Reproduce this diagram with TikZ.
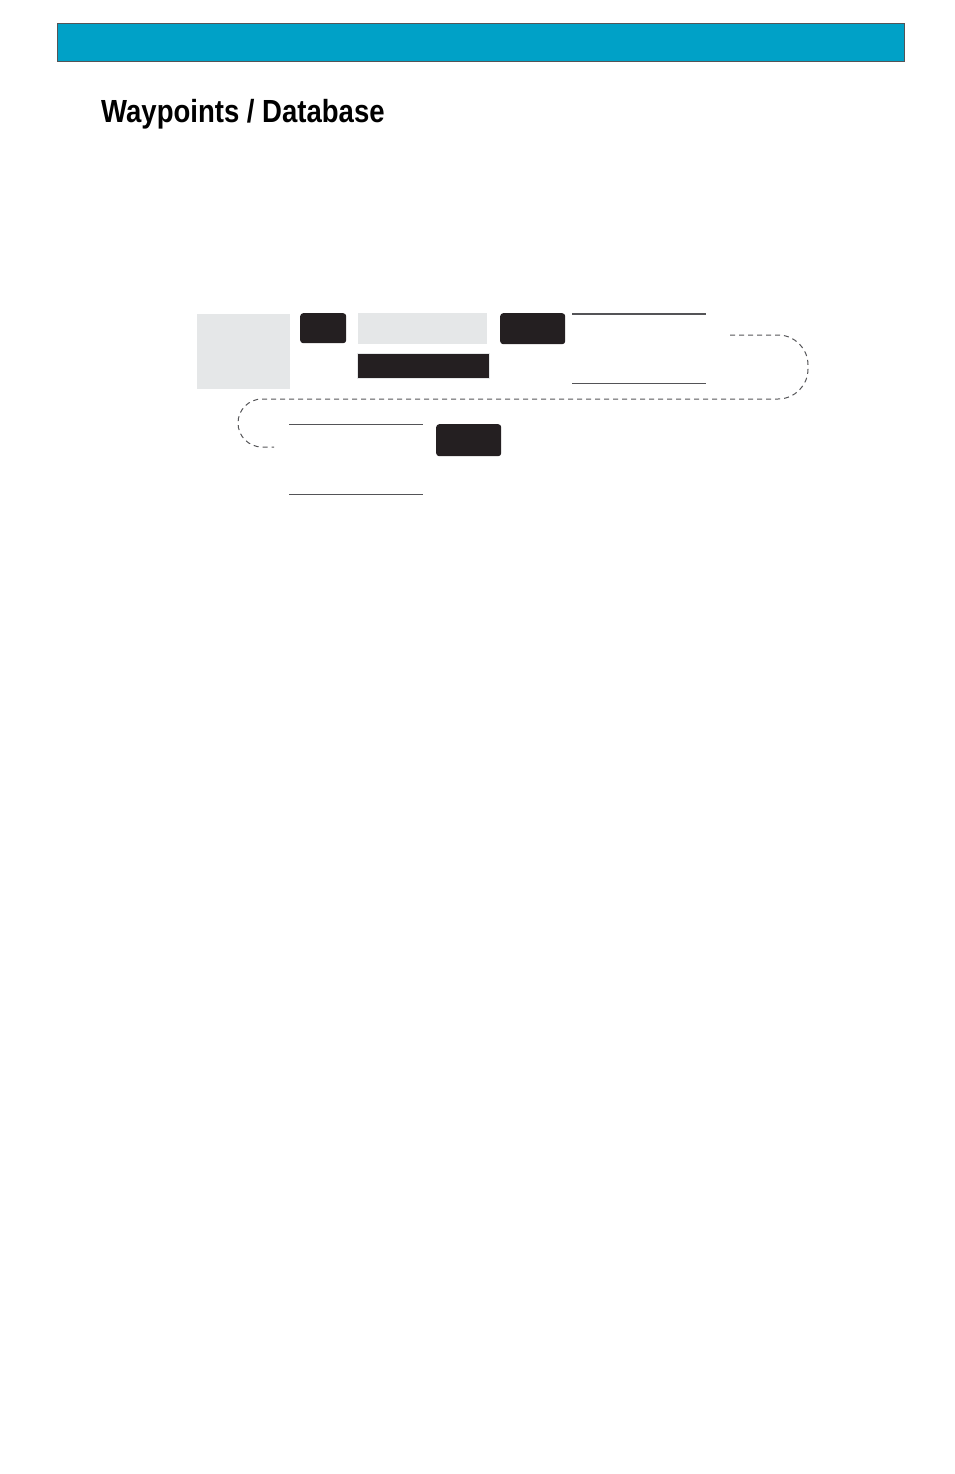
\documentclass[tikz,border=0pt]{standalone}
\usepackage{fontspec}
\setmainfont{Liberation Sans}
\usetikzlibrary{positioning}
\definecolor{mcyan}{rgb}{0.0, 0.63, 0.78}
\definecolor{mblack}{rgb}{0.14, 0.12, 0.13}
\definecolor{mgray}{rgb}{0.9, 0.906, 0.91}
\definecolor{mline}{rgb}{0.33, 0.33, 0.34}
\tikzset{keybox/.style = {fill = mblack, rounded corners = 3pt, inner sep = 0pt, anchor = north west},
         graybox/.style = {fill = mgray, inner sep = 0pt, anchor = north west},
         loop/.style = {mline, line width = 1pt, dash pattern = on 5pt off 4pt}}

\begin{document}
\begin{tikzpicture}[x = 1pt, y = -1pt]
      \useasboundingbox (0, 0) rectangle (954, 1474);
      % header bar
      \draw [fill = mcyan, draw = mline, line width = 0.6pt] (57, 23) rectangle (904, 61);
      \node (title) [anchor = base west, inner sep = 0pt] at (101, 123)
            {\scalebox{0.86}[1]{\fontsize{32}{32}\selectfont\bfseries Waypoints / Database}};
      % first row
      \node (screen) [graybox, minimum width = 93pt, minimum height = 75pt] at (197, 314) {};
      \node (keyA) [keybox, minimum width = 46pt, minimum height = 30pt] at (300, 313) {};
      \node (field) [graybox, minimum width = 129pt, minimum height = 31pt] at (358, 313) {};
      \node (keyB) [keybox, minimum width = 65pt, minimum height = 31pt] at (500, 313) {};
      \node (bar) [fill = mblack, draw = mgray, line width = 1pt, inner sep = 0pt, anchor = north west,
                   minimum width = 132pt, minimum height = 25pt] at (356.5, 352.5) {};
      \coordinate (topA) at (572, 314);
      \coordinate (topB) at (706, 314);
      \coordinate (botA) at (572, 383);
      \coordinate (botB) at (706, 383);
      \draw [mline, line width = 1.8pt] (topA) -- (topB);
      \draw [mline, line width = 1pt] (botA) -- (botB);
      % second row
      \coordinate (topC) at (289, 424);
      \coordinate (topD) at (423, 424);
      \coordinate (botC) at (289, 494);
      \coordinate (botD) at (423, 494);
      \draw [mline, line width = 1pt] (topC) -- (topD);
      \draw [mline, line width = 1pt] (botC) -- (botD);
      \node (keyC) [keybox, minimum width = 65pt, minimum height = 32pt] at (436, 424) {};
      % dashed loop
      \coordinate (loopin) at (730, 335);
      \coordinate (loopout) at (274, 447);
      \draw [loop, rounded corners = 30pt] (loopin) -- (808, 335) -- (808, 399)
            [rounded corners = 24pt] -- (238, 399) -- (238, 447) -- (loopout);
    \end{tikzpicture}
\end{document}
